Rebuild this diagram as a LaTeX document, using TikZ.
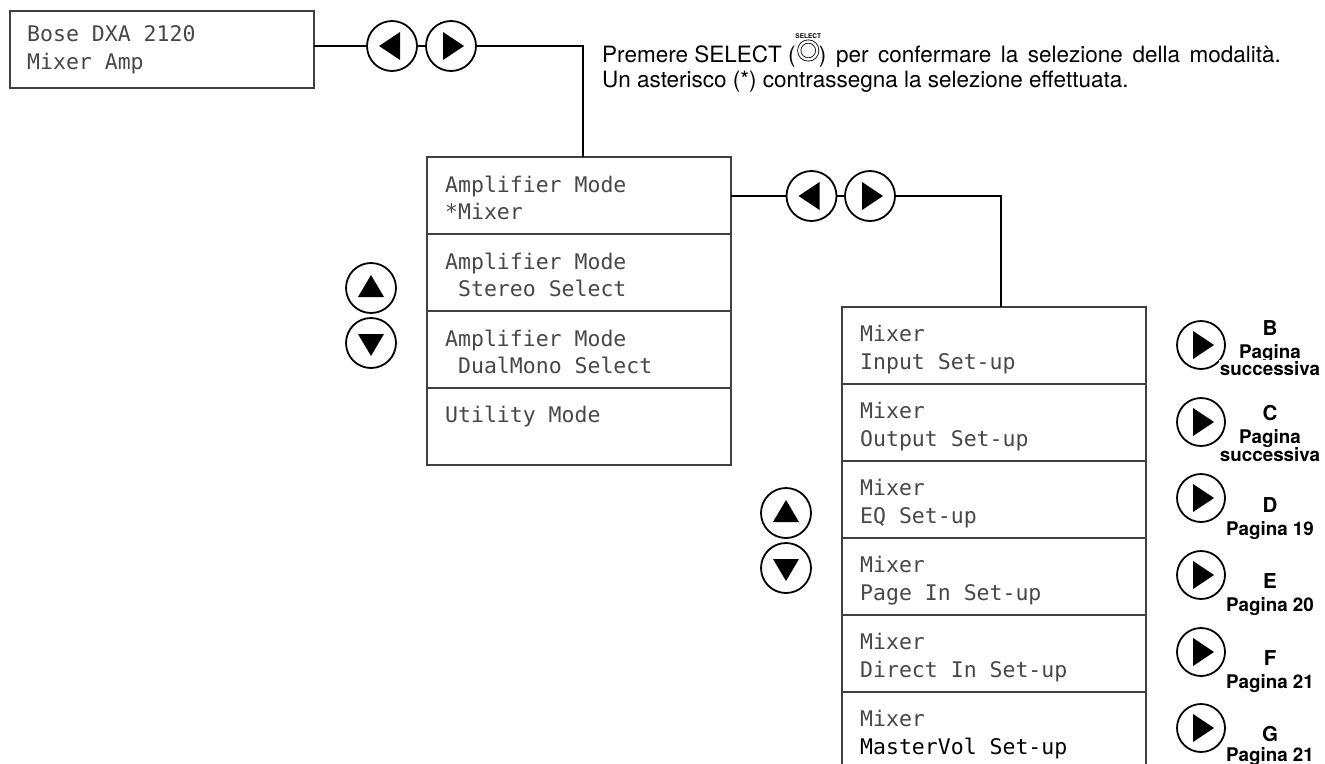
\documentclass[tikz,border=0pt]{standalone}
\usepackage{fontspec}
\setmainfont{TeX Gyre Heros}
\newfontfamily\lcdfont{DejaVu Sans Mono}
\begin{document}
\begin{tikzpicture}[x=1pt,y=-1pt,
  lcdrow/.style={draw=black!75, line width=1.1pt, minimum width=304pt, minimum height=77pt, inner sep=0, outer sep=0, anchor=north west},
  lcdtxt/.style={anchor=base west, inner sep=0, text=black!72, font=\lcdfont\fontsize{21.5}{27.5}\selectfont},
  conn/.style={line width=1.8pt, black},
  btn/.style={circle, draw, line width=1.8pt, minimum size=50pt, inner sep=0, outer sep=0, fill=white},
  btnright/.style={btn, path picture={\fill[black] ([shift={(-8,-14)}]path picture bounding box.center) -- ([shift={(-8,14)}]path picture bounding box.center) -- ([shift={(13,0)}]path picture bounding box.center) -- cycle;}},
  btnleft/.style={btn, path picture={\fill[black] ([shift={(8,-14)}]path picture bounding box.center) -- ([shift={(8,14)}]path picture bounding box.center) -- ([shift={(-13,0)}]path picture bounding box.center) -- cycle;}},
  btnup/.style={btn, path picture={\fill[black] ([shift={(0,-13)}]path picture bounding box.center) -- ([shift={(13,9)}]path picture bounding box.center) -- ([shift={(-13,9)}]path picture bounding box.center) -- cycle;}},
  btndown/.style={btn, path picture={\fill[black] ([shift={(0,13)}]path picture bounding box.center) -- ([shift={(13,-9)}]path picture bounding box.center) -- ([shift={(-13,-9)}]path picture bounding box.center) -- cycle;}},
  gobtn/.style={btnright, minimum size=48pt},
  lblbig/.style={anchor=base, inner sep=0, font=\bfseries\fontsize{20.5}{21}\selectfont},
  lblsmall/.style={anchor=base, inner sep=0.5pt, fill=white, font=\bfseries\fontsize{18.8}{19}\selectfont},
  maintxt/.style={anchor=base west, inner sep=0, font=\fontsize{22.5}{26}\selectfont}
]
\useasboundingbox (0,0) rectangle (1325,763);

% top-left display
\node[lcdrow, minimum height=77pt] (bose) at (10,11) {};
\node[lcdtxt] (bose1) at (27,41) {Bose DXA 2120};
\node[lcdtxt] (bose2) at (27,69) {Mixer Amp};

% first left/right buttons
\node[btnleft] (l1) at (392,46) {};
\node[btnright] (r1) at (451,46) {};

% amplifier mode column
\node[lcdrow] (a1) at (427,157) {};
\node[lcdrow] (a2) at (427,234) {};
\node[lcdrow] (a3) at (427,311) {};
\node[lcdrow] (a4) at (427,388) {};
\node[lcdtxt] (a1t1) at (445,192) {Amplifier Mode};
\node[lcdtxt] (a1t2) at (445,219) {*Mixer};
\node[lcdtxt] (a2t1) at (445,269) {Amplifier Mode};
\node[lcdtxt] (a2t2) at (445,296) {\phantom{S}Stereo Select};
\node[lcdtxt] (a3t1) at (445,346) {Amplifier Mode};
\node[lcdtxt] (a3t2) at (445,373) {\phantom{S}DualMono Select};
\node[lcdtxt] (a4t1) at (445,422) {Utility Mode};

\node[btnup] (u1) at (371,288) {};
\node[btndown] (d1) at (371,343) {};

% second left/right buttons
\node[btnleft] (l2) at (811.5,196) {};
\node[btnright] (r2) at (870,196) {};

% mixer column
\node[lcdrow] (m1) at (842,307) {};
\node[lcdrow] (m2) at (842,384) {};
\node[lcdrow] (m3) at (842,461) {};
\node[lcdrow] (m4) at (842,538) {};
\node[lcdrow] (m5) at (842,615) {};
\node[lcdrow, draw=none, minimum height=71.5pt] (m6) at (842,692) {};
\draw[draw=black!75, line width=1.1pt] (m6.south west) -- (m6.north west) -- (m6.north east) -- (m6.south east);

\node[lcdtxt] (m1t1) at (860,341) {Mixer};
\node[lcdtxt] (m1t2) at (860,369) {Input Set-up};
\node[lcdtxt] (m2t1) at (860,418) {Mixer};
\node[lcdtxt] (m2t2) at (860,446) {Output Set-up};
\node[lcdtxt] (m3t1) at (860,495) {Mixer};
\node[lcdtxt] (m3t2) at (860,523) {EQ Set-up};
\node[lcdtxt] (m4t1) at (860,572) {Mixer};
\node[lcdtxt] (m4t2) at (860,600) {Page In Set-up};
\node[lcdtxt] (m5t1) at (860,649) {Mixer};
\node[lcdtxt] (m5t2) at (860,677) {Direct In Set-up};
\node[lcdtxt] (m6t1) at (860,726) {Mixer};
\node[lcdtxt, text=black] (m6t2) at (860,754) {MasterVol Set-up};

\node[btnup] (u2) at (786,513) {};
\node[btndown] (d2) at (786,568) {};

% go buttons
\node[gobtn] (gB) at (1201,345) {};
\node[gobtn] (gC) at (1201,422) {};
\node[gobtn] (gD) at (1201,498) {};
\node[gobtn] (gE) at (1201,575) {};
\node[gobtn] (gF) at (1201,652) {};
\node[gobtn] (gG) at (1201,728) {};

\node[lblbig] (lB) at (1270,335.7) {B};
\node[lblsmall] (lB1) at (1270,358.3) {Pagina};
\node[lblsmall] (lB2) at (1270,375) {successiva};
\node[lblbig] (lC) at (1270,420.7) {C};
\node[lblsmall] (lC1) at (1270,443.3) {Pagina};
\node[lblsmall] (lC2) at (1270,461.7) {successiva};
\node[lblbig] (lD) at (1270,512.7) {D};
\node[lblsmall] (lD1) at (1270,535) {Pagina 19};
\node[lblbig] (lE) at (1270,588.3) {E};
\node[lblsmall] (lE1) at (1270,611.7) {Pagina 20};
\node[lblbig] (lF) at (1270,665) {F};
\node[lblsmall] (lF1) at (1270,688.3) {Pagina 21};
\node[lblbig] (lG) at (1270,741.7) {G};
\node[lblsmall] (lG1) at (1270,761.5) {Pagina 21};

% connectors
\draw[conn] (l1.west -| bose.east) -- (l1.west);
\draw[conn] (l1.east) -- (r1.west);
\draw[conn] (r1.east) -| ([xshift=4pt]a1.north);
\draw[conn] (l2.west -| a1.east) -- (l2.west);
\draw[conn] (l2.east) -- (r2.west);
\draw[conn] (r2.east) -| ([xshift=7pt]m1.north);

% instruction text
\node[maintxt] (p1) at (602,62) {Premere SELECT (};
\node[circle, draw, line width=0.8pt, double, double distance=2.4pt, minimum size=18pt, inner sep=0] (sel) at ([xshift=12.5pt, yshift=11.5pt]p1.base east) {};
\node[inner sep=0, font=\bfseries\fontsize{6.5}{7}\selectfont] (sellbl) at ([yshift=14.5pt]sel.center) {SELECT};
\node[maintxt] (p2) at ([xshift=23pt]p1.base east) {\makebox[462pt][s]{) per confermare la selezione della modalità.}};
\node[maintxt] (p3) at (602,87) {Un asterisco (*) contrassegna la selezione effettuata.};
\end{tikzpicture}
\end{document}
